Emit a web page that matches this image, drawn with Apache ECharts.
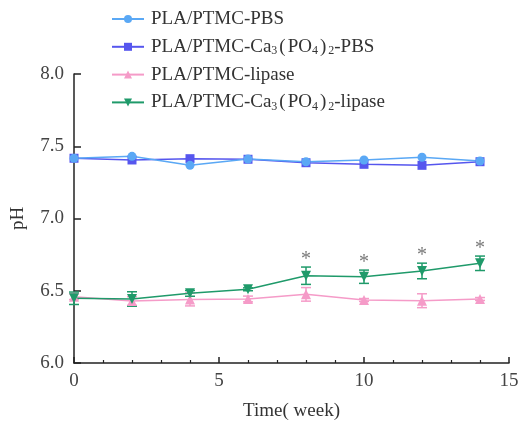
<!DOCTYPE html>
<html>
<head>
<meta charset="utf-8">
<script src="https://cdn.jsdelivr.net/npm/echarts@6/dist/echarts.min.js"></script>
<style>
  html, body { margin: 0; padding: 0; background: #fff; }
  #main { width: 520px; height: 422px; }
</style>
</head>
<body>
<div id="main"></div>
<script>
  // weeks sampled
  var weeks = [0, 2, 4, 6, 8, 10, 12, 14]
  var names = [
    'PLA/PTMC-PBS',
    'PLA/PTMC-Ca3(PO4)2-PBS',
    'PLA/PTMC-lipase',
    'PLA/PTMC-Ca3(PO4)2-lipase'
  ]
  var pbs = [7.417, 7.43, 7.368, 7.412, 7.393, 7.405, 7.424, 7.398]
  var caPbs = [7.417, 7.405, 7.414, 7.41, 7.386, 7.375, 7.368, 7.393]
  var lipase = [6.459, 6.429, 6.44, 6.443, 6.475, 6.436, 6.431, 6.443]
  var lipaseErr = [0.02, 0.03, 0.045, 0.02, 0.047, 0.01, 0.048, 0.01]
  var caLipase = [6.448, 6.443, 6.482, 6.51, 6.604, 6.597, 6.637, 6.69]
  var caLipaseErr = [0.043, 0.05, 0.02, 0.01, 0.06, 0.046, 0.054, 0.05]
  // weeks marked with significance star (index into weeks)
  var starIdx = [4, 5, 6, 7]

  var colors = ['#5aa8f5', '#5656ee', '#f59bc8', '#1f9a6a']
  var serif = "'Liberation Serif', 'Times New Roman', serif"

  function pairs(vals) {
    return vals.map(function (v, i) { return [weeks[i], v] })
  }

  function errData(vals, errs) {
    return vals.map(function (v, i) { return [weeks[i], v - errs[i], v + errs[i]] })
  }

  function errSeries(vals, errs, color) {
    return {
      type: 'custom',
      z: 1,
      silent: true,
      data: errData(vals, errs),
      encode: { x: 0, y: [1, 2] },
      renderItem: function (params, api) {
        var lo = api.coord([api.value(0), api.value(1)])
        var hi = api.coord([api.value(0), api.value(2)])
        var w = 5
        var st = { stroke: color, lineWidth: 1.5 }
        return {
          type: 'group',
          children: [
            { type: 'line', shape: { x1: lo[0], y1: lo[1], x2: hi[0], y2: hi[1] }, style: st },
            { type: 'line', shape: { x1: lo[0] - w, y1: lo[1], x2: lo[0] + w, y2: lo[1] }, style: st },
            { type: 'line', shape: { x1: hi[0] - w, y1: hi[1], x2: hi[0] + w, y2: hi[1] }, style: st }
          ]
        }
      }
    }
  }

  function lineSeries(name, vals, color, symbol, size, rotate) {
    return {
      name: name,
      type: 'line',
      z: 3,
      data: pairs(vals),
      symbol: symbol,
      symbolSize: size,
      symbolRotate: rotate || 0,
      lineStyle: { color: color, width: 1.5 },
      itemStyle: { color: color }
    }
  }

  var starData = starIdx.map(function (i) { return [weeks[i], caLipase[i] + caLipaseErr[i]] })

  var chart = echarts.init(document.getElementById('main'))
  chart.setOption({
    backgroundColor: '#fff',
    animation: false,
    legend: {
      data: names,
      orient: 'vertical',
      left: 106,
      top: 4,
      itemWidth: 32,
      itemHeight: 10,
      itemGap: 7.8,
      textStyle: {
        fontFamily: serif,
        fontSize: 19,
        lineHeight: 20,
        color: '#333',
        padding: [0, 0, 0, 2],
        rich: {
          sub: { fontFamily: serif, fontSize: 12, lineHeight: 12, verticalAlign: 'bottom', color: '#333' },
          p: { fontFamily: serif, fontSize: 19, lineHeight: 20, color: '#333', padding: [0, 2, 0, 2] }
        }
      },
      formatter: function (n) {
        return n.replace('Ca3(PO4)2', 'Ca{sub|3}{p|(}PO{sub|4}{p|)}{sub|2}')
      }
    },
    grid: { left: 74, right: 11, top: 74, bottom: 59, outerBoundsMode: 'none' },
    xAxis: {
      type: 'value',
      min: 0,
      max: 15,
      interval: 5,
      name: 'Time( week)',
      nameLocation: 'middle',
      nameGap: 39,
      nameTextStyle: { fontFamily: serif, fontSize: 19, color: '#333' },
      axisLine: { lineStyle: { color: '#222', width: 1.5 } },
      axisTick: { inside: true, length: 6, lineStyle: { color: '#222', width: 1.5 } },
      minorTick: { show: true, splitNumber: 5, length: 3, lineStyle: { color: '#222', width: 1.2 } },
      axisLabel: { fontFamily: serif, fontSize: 19, color: '#444', margin: 9 },
      splitLine: { show: false }
    },
    yAxis: {
      type: 'value',
      min: 6.0,
      max: 8.0,
      interval: 0.5,
      name: 'pH',
      nameLocation: 'middle',
      nameGap: 46,
      nameTextStyle: { fontFamily: serif, fontSize: 19, color: '#333' },
      axisLine: { show: true, lineStyle: { color: '#222', width: 1.5 } },
      axisTick: { show: true, inside: true, length: 7, lineStyle: { color: '#222', width: 1.5 } },
      axisLabel: {
        fontFamily: serif, fontSize: 19, color: '#444', margin: 10,
        formatter: function (v) { return v.toFixed(1) }
      },
      splitLine: { show: false }
    },
    series: [
      errSeries(lipase, lipaseErr, colors[2]),
      errSeries(caLipase, caLipaseErr, colors[3]),
      lineSeries(names[2], lipase, colors[2], 'triangle', 10),
      lineSeries(names[3], caLipase, colors[3], 'triangle', 10, 180),
      lineSeries(names[1], caPbs, colors[1], 'rect', 9),
      lineSeries(names[0], pbs, colors[0], 'circle', 9),
      {
        type: 'scatter',
        silent: true,
        data: starData,
        symbolSize: 0,
        label: {
          show: true,
          position: 'top',
          distance: -3,
          formatter: '*',
          fontFamily: serif,
          fontSize: 20,
          color: '#555'
        }
      }
    ]
  })
</script>
</body>
</html>
